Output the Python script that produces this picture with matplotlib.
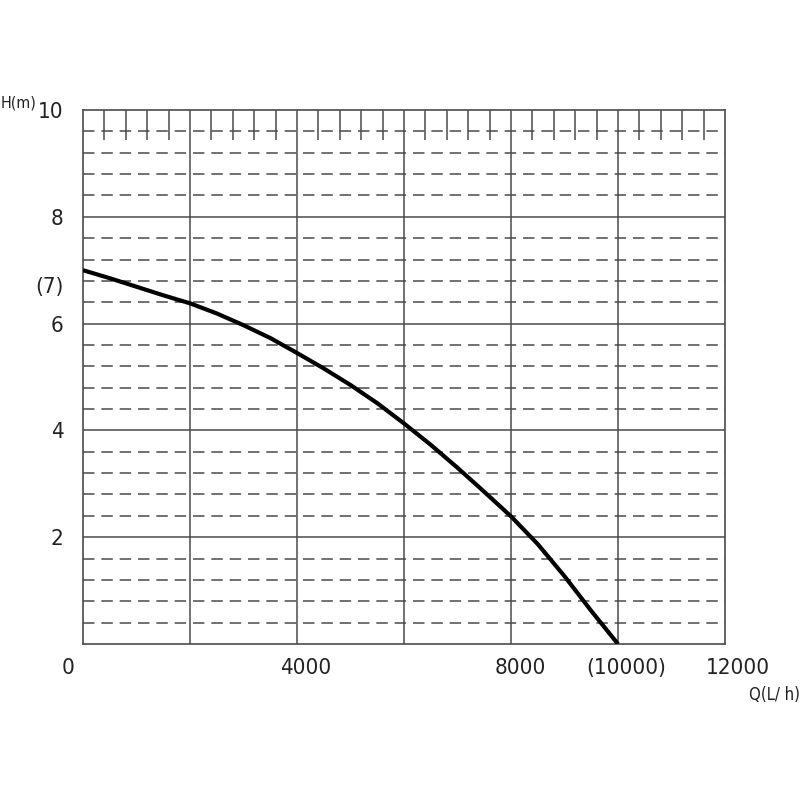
import numpy as np
import matplotlib.pyplot as plt
import matplotlib.transforms as mtrans

# pump curve (Q in L/h, H in m)
Q = [0, 500, 1000, 1500, 2000, 2500, 3000, 3500, 4000, 4500, 5000,
     5500, 6000, 6500, 7000, 7500, 8000, 8500, 9000, 9500, 10000]
H = [7.00, 6.85, 6.69, 6.53, 6.38, 6.19, 5.97, 5.73, 5.45, 5.16, 4.85,
     4.51, 4.13, 3.73, 3.30, 2.85, 2.39, 1.87, 1.27, 0.62, 0.00]

xticks = [0, 4000, 8000, 10000, 12000]
xlabels = ['0', '4000', '8000', '(10000)', '12000']
yticks = [2, 4, 6, 7, 8, 10]
ylabels = ['2', '4', '6', '(7)', '8', '10']

major_q = [2000, 4000, 6000, 8000, 10000]
major_h = [2, 4, 6, 8]
minor_h = [h for h in np.arange(0.4, 10.0, 0.4) if abs(h / 2 - round(h / 2)) > 0.05]
top_ticks = [q for q in range(400, 12000, 400) if q % 2000 != 0]

plt.rcParams['font.family'] = ['DejaVu Sans']
plt.rcParams['font.stretch'] = 'condensed'
gc = '#4a4a4a'
tc = '#222222'

fig = plt.figure(figsize=(8, 8), dpi=100)
ax = fig.add_axes([0.10375, 0.195, 0.8025, 0.6675])
ax.set_xlim(0, 12000)
ax.set_ylim(0, 10)

# grid
for h in minor_h:
    ax.axhline(h, color=gc, lw=1.1, dashes=(7.5, 4.5), zorder=1)
for h in major_h:
    ax.axhline(h, color=gc, lw=1.1, zorder=1)
for q in major_q:
    ax.axvline(q, color=gc, lw=1.1, zorder=1)
ax.vlines(top_ticks, 9.44, 10, color=gc, lw=1.1, zorder=1)

ax.plot(Q, H, color='black', lw=3, zorder=3, solid_capstyle='butt', solid_joinstyle='round')

for s in ax.spines.values():
    s.set_color(gc)
    s.set_linewidth(1.2)

ax.set_xticks(xticks)
ax.set_xticklabels(xlabels)
ax.set_yticks(yticks)
ax.set_yticklabels(ylabels)
ax.tick_params(length=0, labelsize=16, colors=tc)
ax.tick_params(axis='x', pad=10)
ax.tick_params(axis='y', pad=14)

# nudge labels like the reference
xoff = {'0': -15, '4000': 9, '8000': 9, '(10000)': 8, '12000': 13}
for lab in ax.get_xticklabels():
    dx = xoff.get(lab.get_text(), 0)
    lab.set_transform(lab.get_transform() + mtrans.ScaledTranslation(dx / 100, 0, fig.dpi_scale_trans))
for lab in ax.get_yticklabels():
    if lab.get_text() == '(7)':
        lab.set_transform(lab.get_transform() + mtrans.ScaledTranslation(0, -15 / 100, fig.dpi_scale_trans))

fig.text(1 / 800, 1 - 103 / 800, 'H(m)', fontsize=11.5, ha='left', va='center', color=tc)
fig.text(800 / 800, 1 - 695 / 800, 'Q(L/ h)', fontsize=12, ha='right', va='center', color=tc)

fig.savefig('out.png', dpi=100)
